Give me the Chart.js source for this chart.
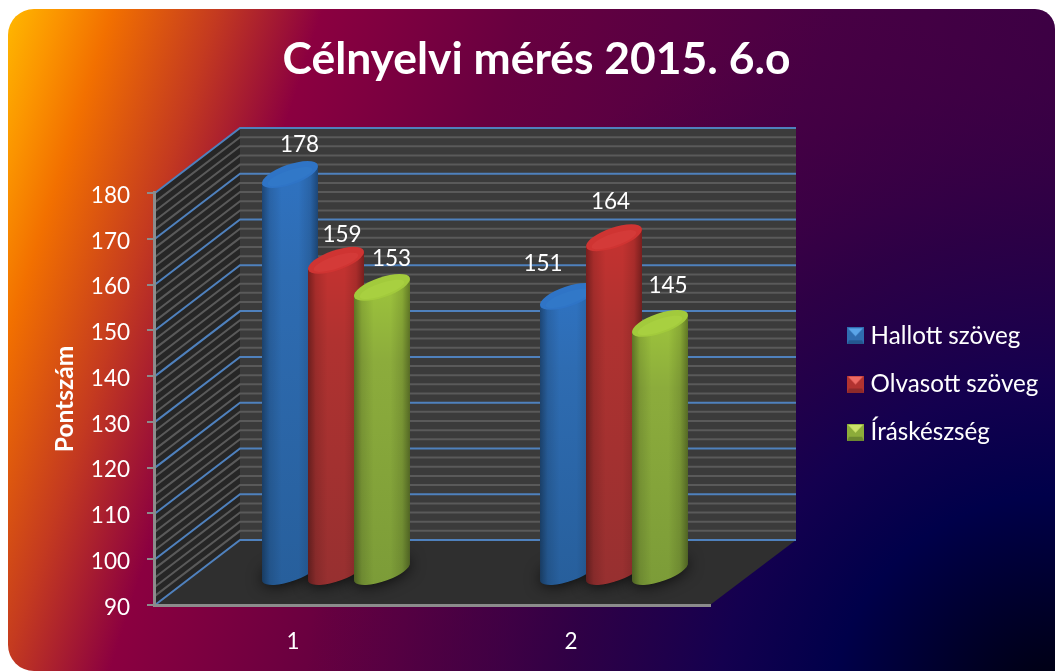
<!DOCTYPE html>
<html><head><meta charset="utf-8">
<style>html,body{margin:0;padding:0;background:#fff}canvas{display:block}</style>
<script src="https://cdn.jsdelivr.net/npm/chart.js@4"></script>
</head><body><canvas id="c" width="1055" height="671"></canvas>
<script>
const categories = ['1', '2'];
const hallott = [178, 151];
const olvasott = [159, 164];
const iras = [153, 145];
const seriesNames = ['Hallott szöveg', 'Olvasott szöveg', 'Íráskészség'];
const yMin = 90, yMax = 180, yStep = 10, minorStep = 2;
const titleText = 'Célnyelvi mérés 2015. 6.o';
const axisTitle = 'Pontszám';

const FONT = 'Lato';
const WALL = {dx: 86, dy: -65};
const BAR_DX = 43;
const ELL = {a: 29.4, b: 10, rot: -19 * Math.PI / 180, tx: 28, ty: 8.5};
const looks = [
  {top:'#2f72c0', side:'#2e6cb2', low:'#275f9c', cap:'#2f74c6', capHi:'#3178c8', tri:'#5aa5e8', mid:'#2f6db0', dark:'#24568f'},
  {top:'#c43230', side:'#b03230', low:'#973030', cap:'#cf3432', capHi:'#d43a38', tri:'#ee6a64', mid:'#b23330', dark:'#8e2a2a'},
  {top:'#9cc23c', side:'#8cac3c', low:'#7c9c38', cap:'#a2ca3c', capHi:'#a8d040', tri:'#cde36a', mid:'#8cac3a', dark:'#6c8830'}
];
// hand-placed data-label offsets from each cylinder's cap, as in the reference
const labelNudge = [[[9.5,-30],[-25,-33]],[[6,-26],[-3.5,-36]],[[9.5,-29],[8,-38]]];

function swatch(l){
  const c=document.createElement('canvas');c.width=17;c.height=17;
  const g=c.getContext('2d');
  g.fillStyle=l.mid;g.fillRect(0,0,17,17);
  g.fillStyle=l.dark;g.beginPath();g.moveTo(0,17);g.lineTo(17,17);g.lineTo(15,13);g.lineTo(2,13);g.fill();
  g.fillStyle=l.tri;g.beginPath();g.moveTo(1,1);g.lineTo(16,1);g.lineTo(8.5,9);g.fill();
  return c;
}
function tilted(ctx,x,y,s,e,ccw){ctx.ellipse(x,y,ELL.a,ELL.b,ELL.rot,s,e,ccw);}

const scenePlugin = {
  id:'scene',
  beforeLayout(chart){
    const lg=chart.legend;
    if(lg && !lg._wrapped){const f=lg.fit;lg.fit=function(){f.call(this);this.width=240;};lg._wrapped=true;}
  },
  afterLayout(chart){
    const lg=chart.legend, w=lg.width, h=lg.bottom-lg.top;
    lg.left=828.5;lg.right=828.5+w;lg.top=384-h/2;lg.bottom=384+h/2;
    chart.titleBlock.left=8;chart.titleBlock.right=1065;
  },
  beforeDraw(chart){
    const ctx=chart.ctx, y=chart.scales.y, ca=chart.chartArea;
    ctx.save();
    ctx.fillStyle='#fff';ctx.fillRect(0,0,1055,671);
    ctx.beginPath();ctx.roundRect(8,9,1047,662,[26,20,0,26]);ctx.clip();
    const g=ctx.createLinearGradient(0,0,1152,371);
    const stops=[[10,'#ffb800'],[60,'#fb9400'],[110,'#f27000'],[210,'#c43a20'],[310,'#8b0040'],[500,'#680040'],[800,'#480044'],[1210,'#300044']];
    stops.forEach(s=>g.addColorStop(s[0]/1210,s[1]));
    ctx.fillStyle=g;ctx.fillRect(0,0,1055,671);
    const rg=ctx.createRadialGradient(1055,720,0,1055,720,750);
    rg.addColorStop(0,'#000008');rg.addColorStop(.1,'#00001e');rg.addColorStop(.3,'#00004a');rg.addColorStop(.45,'#14004f');
    rg.addColorStop(.65,'rgba(40,0,70,.8)');rg.addColorStop(.85,'rgba(60,0,68,.4)');rg.addColorStop(1,'rgba(70,0,68,0)');
    ctx.fillStyle=rg;ctx.fillRect(0,0,1055,671);
    ctx.restore();

    const l=ca.left,r=ca.right,t=y.getPixelForValue(yMax),b=y.getPixelForValue(yMin);
    const dx=WALL.dx,dy=WALL.dy;
    ctx.save();
    ctx.fillStyle='#2f2f2f';ctx.beginPath();ctx.moveTo(l,b);ctx.lineTo(r,b);ctx.lineTo(r+dx,b+dy);ctx.lineTo(l+dx,b+dy);ctx.fill();
    ctx.fillStyle='#262626';ctx.beginPath();ctx.moveTo(l,b);ctx.lineTo(l,t);ctx.lineTo(l+dx,t+dy);ctx.lineTo(l+dx,b+dy);ctx.fill();
    ctx.fillStyle='#3b3b3b';ctx.fillRect(l+dx,t+dy,r-l,b-t);
    ctx.lineWidth=2;ctx.strokeStyle='#5a5a5a';
    for(let v=yMin+minorStep;v<yMax;v+=minorStep){
      if((v-yMin)%yStep===0)continue;
      const p=y.getPixelForValue(v);
      ctx.beginPath();ctx.moveTo(l+1,p);ctx.lineTo(l+dx,p+dy);ctx.lineTo(r+dx,p+dy);ctx.stroke();
    }
    ctx.strokeStyle='#4f81bd';
    for(let v=yMin;v<=yMax;v+=yStep){
      const p=y.getPixelForValue(v);
      ctx.beginPath();ctx.moveTo(l+1,p);ctx.lineTo(l+dx,p+dy);ctx.lineTo(r+dx,p+dy);ctx.stroke();
    }
    ctx.restore();
  },
  beforeDatasetsDraw(chart){
    const ctx=chart.ctx, metas=chart.getSortedVisibleDatasetMetas().slice().sort((a,b)=>a.index-b.index);
    metas.forEach(m=>m.data.forEach(el=>{
      const x=el.x+BAR_DX,y=el.base;
      ctx.save();ctx.shadowColor='rgba(0,0,0,.85)';ctx.shadowBlur=16;ctx.fillStyle='#161616';
      ctx.beginPath();tilted(ctx,x,y,0,Math.PI*2);ctx.fill();ctx.restore();
    }));
    metas.forEach(m=>{
      const l=looks[m.index];
      m.data.forEach(el=>{
        const x=el.x+BAR_DX, top=el.y, base=el.base;
        const path=()=>{
          ctx.beginPath();
          ctx.moveTo(x-ELL.tx,top+ELL.ty);
          ctx.lineTo(x-ELL.tx,base+ELL.ty);
          ctx.ellipse(x,base,ELL.a,ELL.b,ELL.rot,Math.PI*0.98,Math.PI*0.02,true);
          ctx.lineTo(x+ELL.tx,top-ELL.ty);
          ctx.closePath();
        };
        const v=ctx.createLinearGradient(0,top,0,base+12);
        v.addColorStop(0,l.top);v.addColorStop(.25,l.side);v.addColorStop(1,l.low);
        ctx.fillStyle=v;path();ctx.fill();
        const h=ctx.createLinearGradient(x-ELL.tx,0,x+ELL.tx,0);
        h.addColorStop(0,'rgba(0,0,0,.38)');h.addColorStop(.14,'rgba(0,0,0,.12)');h.addColorStop(.35,'rgba(0,0,0,0)');
        h.addColorStop(.65,'rgba(0,0,0,0)');h.addColorStop(.86,'rgba(0,0,0,.12)');h.addColorStop(1,'rgba(0,0,0,.38)');
        ctx.fillStyle=h;path();ctx.fill();
        ctx.fillStyle=l.cap;ctx.beginPath();tilted(ctx,x,top,0,Math.PI*2);ctx.fill();
        ctx.fillStyle=l.capHi;ctx.beginPath();ctx.ellipse(x,top+2,ELL.a*.8,ELL.b*.62,ELL.rot,0,Math.PI*2);ctx.fill();
      });
    });
    return false;
  },
  afterDraw(chart){
    const ctx=chart.ctx;
    ctx.save();ctx.fillStyle='#fff';ctx.font='22.5px '+FONT;ctx.textAlign='center';ctx.textBaseline='middle';
    chart.data.datasets.forEach((d,i)=>{
      chart.getDatasetMeta(i).data.forEach((el,j)=>{
        const n=labelNudge[i][j];
        ctx.fillText(d.data[j],el.x+BAR_DX+n[0],el.y+n[1]);
      });
    });
    ctx.restore();
  }
};

new Chart(document.getElementById('c'),{
  type:'bar',
  plugins:[scenePlugin],
  data:{labels:categories,datasets:[
    {label:seriesNames[0],data:hallott,backgroundColor:looks[0].side,yAxisID:'yBars',base:yMin},
    {label:seriesNames[1],data:olvasott,backgroundColor:looks[1].side,yAxisID:'yBars',base:yMin},
    {label:seriesNames[2],data:iras,backgroundColor:looks[2].side,yAxisID:'yBars',base:yMin}
  ]},
  options:{
    responsive:false,animation:false,
    categoryPercentage:.4964,barPercentage:1,
    layout:{autoPadding:false,padding:{left:50,right:105,top:0,bottom:0}},
    scales:{
      x:{type:'category',offset:true,
        grid:{display:false},
        border:{display:true,color:'#8c8c8c',width:3},
        ticks:{color:'#fff',font:{family:FONT,size:22.5},padding:15,maxRotation:0},
        afterFit(s){s.height=66;}},
      y:{type:'linear',min:yMin,max:yMax,position:'left',
        grid:{drawOnChartArea:false,drawTicks:true,tickLength:7,color:'#8c8c8c',lineWidth:2},
        border:{display:true,color:'#8c8c8c',width:3},
        ticks:{stepSize:yStep,color:'#fff',font:{family:FONT,size:22.5},padding:17,labelOffset:2.5},
        title:{display:true,text:axisTitle,color:'#fff',font:{family:FONT,size:24.5,weight:'bold'},padding:{top:0,bottom:0}},
        afterFit(s){s.width=104;}},
      yBars:{type:'linear',display:false,position:'left',min:82.57,max:173.92}
    },
    plugins:{
      title:{display:true,text:titleText,color:'#fff',font:{family:FONT,size:44.4,weight:'bold'},padding:{top:33,bottom:106.7}},
      legend:{position:'right',fullSize:false,
        labels:{color:'#fff',font:{family:FONT,size:24.2},padding:24,usePointStyle:true,pointStyleWidth:6,
          generateLabels(c){return c.data.datasets.map((d,i)=>({text:d.label,fontColor:'#fff',pointStyle:swatch(looks[i]),datasetIndex:i,fillStyle:d.backgroundColor,strokeStyle:'transparent',lineWidth:0,hidden:false}));}}},
      tooltip:{enabled:false}
    }
  }
});
</script></body></html>
